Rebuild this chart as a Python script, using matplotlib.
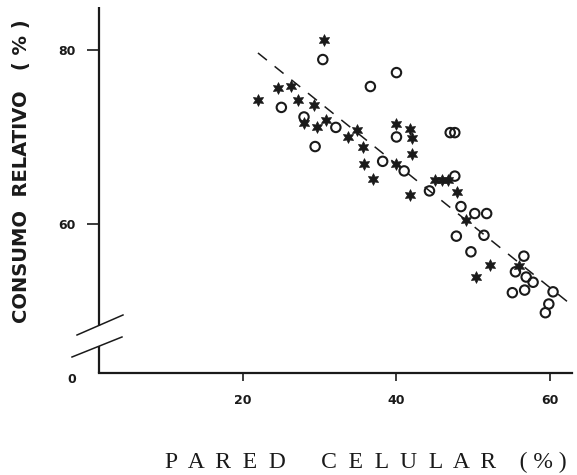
import matplotlib
matplotlib.use("Agg")
import matplotlib.pyplot as plt
import numpy as np

# ---- data ----
star_x = [22.0, 24.6, 26.3, 27.2, 29.25, 27.9, 29.6, 30.8, 30.55, 33.7, 34.9, 35.6, 35.8, 37.0,
          40.0, 40.0, 41.8, 42.0, 42.0, 41.8, 45.0, 45.9, 46.7, 47.9, 49.1, 52.2, 50.4, 56.0]
star_y = [74.2, 75.6, 75.9, 74.3, 73.7, 71.6, 71.1, 71.9, 81.1, 70.0, 70.8, 68.8, 66.9, 65.2,
          66.9, 71.5, 70.9, 69.9, 68.0, 63.3, 65.1, 65.1, 65.1, 63.7, 60.5, 55.3, 53.9, 55.2]

circ_x = [30.4, 40.0, 36.6, 25.0, 27.95, 32.1, 29.4, 38.2, 40.0, 41.0, 47.0, 47.6, 47.6, 44.3,
          48.4, 50.2, 51.75, 47.8, 51.4, 49.7, 56.6, 55.5, 56.9, 57.8, 56.7, 55.1, 60.4, 59.85, 59.4]
circ_y = [78.9, 77.4, 75.8, 73.4, 72.3, 71.1, 68.9, 67.2, 70.0, 66.1, 70.5, 70.5, 65.5, 63.8,
          62.0, 61.2, 61.2, 58.6, 58.7, 56.8, 56.3, 54.5, 53.9, 53.3, 52.4, 52.1, 52.2, 50.8, 49.8]

# regression line y = a + b*x over the range drawn
reg_a = 95.22
reg_b = -0.709
reg_x = [21.95, 62.35]

x_ticks = [20, 40, 60]
x_ticklabels = ["20", "40", "60"]
y_ticks = [60, 80]
y_ticklabels = ["60", "80"]

ink = "#1a1a1a"

fig = plt.figure(figsize=(5.77, 4.75), dpi=100)
ax = fig.add_axes([99 / 577, 1 - 373 / 475, 473 / 577, 366 / 475])

ax.scatter(circ_x, circ_y, s=46, marker="o", facecolors="none", edgecolors=ink,
           linewidths=1.5, zorder=3)
ax.scatter(star_x, star_y, s=70, marker=(6, 1, 0), color=ink, linewidths=0.6, zorder=3)

rx = np.array(reg_x)
ax.plot(rx, reg_a + reg_b * rx, color=ink, lw=1.1, dashes=(7.5, 6.5), zorder=2)

ax.set_xlim(1.24, 62.87)
ax.set_ylim(42.87, 84.94)

for s in ["top", "right", "left"]:
    ax.spines[s].set_visible(False)
ax.spines["bottom"].set_linewidth(1.6)
ax.spines["bottom"].set_color(ink)

# broken left axis
ax.plot([0, 0], [0, 0.0738], transform=ax.transAxes, color=ink, lw=1.6, clip_on=False,
        solid_capstyle="butt")
ax.plot([0, 0], [0.1284, 1], transform=ax.transAxes, color=ink, lw=1.6, clip_on=False,
        solid_capstyle="butt")
ax.plot([-0.0465, 0.0507], [0.1038, 0.1585], transform=ax.transAxes, color=ink, lw=1.1,
        clip_on=False)
ax.plot([-0.0571, 0.0486], [0.0437, 0.0984], transform=ax.transAxes, color=ink, lw=1.1,
        clip_on=False)

ax.set_xticks(x_ticks)
ax.set_xticklabels(x_ticklabels)
ax.set_yticks(y_ticks)
ax.set_yticklabels(y_ticklabels)
ax.tick_params(axis="x", direction="out", length=6, width=1.2, pad=9, color=ink,
               labelsize=9, labelcolor=ink)
ax.tick_params(axis="y", direction="out", length=9, width=1.2, pad=8, color=ink,
               labelsize=9, labelcolor=ink)
for lab in ax.get_xticklabels() + ax.get_yticklabels():
    lab.set_fontweight("bold")

ax.text(-0.057, -0.019, "0", transform=ax.transAxes, ha="center", va="center",
        fontsize=9, fontweight="bold", color=ink)

fig.text(22 / 577, 1 - 171 / 475, "CONSUMO  RELATIVO   ( % )", rotation=90,
         ha="center", va="center", fontsize=14, fontweight="bold", color=ink,
         family="DejaVu Sans")
fig.text(366 / 577, 1 - 462 / 475, "P  A  R  E  D      C  E  L  U  L  A  R    ( % )",
         ha="center", va="center", fontsize=17, color=ink, family="Liberation Serif")

fig.savefig("out.png", dpi=100)
